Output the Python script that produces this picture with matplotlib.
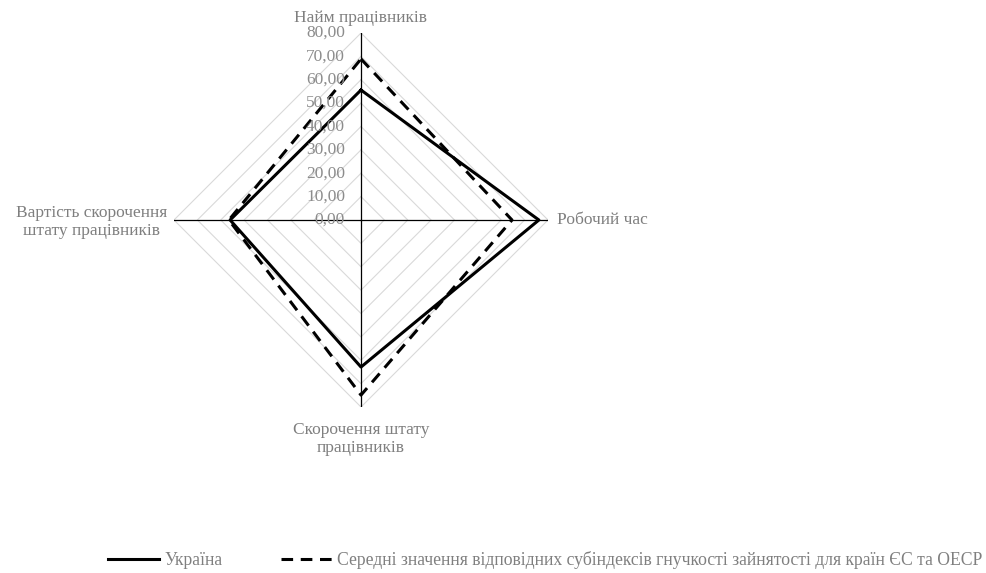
import numpy as np
import matplotlib.pyplot as plt

plt.rcParams['font.family'] = ['Liberation Serif', 'DejaVu Serif']

# categories clockwise from the top
categories = ["Найм працівників", "Робочий час",
              "Скорочення штату\nпрацівників", "Вартість скорочення\nштату працівників"]
ukraine = [55.6, 76.1, 62.9, 56.0]
eu_oecd = [68.9, 64.6, 74.9, 56.5]
levels = [0, 10, 20, 30, 40, 50, 60, 70, 80]
level_labels = ["0,00", "10,00", "20,00", "30,00", "40,00", "50,00", "60,00", "70,00", "80,00"]

fig = plt.figure(figsize=(9.86, 5.73), dpi=100)
ax = fig.add_axes([174 / 986, 166 / 573, 374 / 986, 374 / 573], projection='polar')
ax.set_theta_offset(np.pi / 2)
ax.set_theta_direction(-1)
ax.set_ylim(0, 80)
ax.grid(False)
ax.spines['polar'].set_visible(False)
ax.set_xticks([])
ax.set_yticks([])
ax.patch.set_alpha(0)

n = len(categories)
angles = np.linspace(0, 2 * np.pi, n, endpoint=False)
closed = np.append(angles, angles[0])

# diamond grid
for lv in levels[1:]:
    ax.plot(closed, [lv] * (n + 1), color='#d9d9d9', lw=0.8, zorder=1)
# spokes
for a in angles:
    ax.plot([a, a], [0, 80], color='black', lw=0.9, zorder=2)

# value labels along the top spoke
for lv, lab in zip(levels, level_labels):
    ax.annotate(lab, (0, lv), xytext=(-11.5, 0), textcoords='offset points',
                ha='right', va='center', fontsize=12.5, color='#8c8c8c', zorder=5)

ax.plot(closed, ukraine + ukraine[:1], color='black', lw=2.2, zorder=4, label='Україна')
ax.plot(closed, eu_oecd + eu_oecd[:1], color='black', lw=2.2, dashes=(3.8, 2.5), zorder=3,
        label='Середні значення відповідних субіндексів гнучкості зайнятості для країн ЄС та ОЕСР')

# category labels
lab_kw = dict(textcoords='offset points', fontsize=12.5, color='#7f7f7f',
              multialignment='center', linespacing=1.22)
ax.annotate(categories[0], (angles[0], 80), xytext=(0, 5), ha='center', va='bottom', **lab_kw)
ax.annotate(categories[1], (angles[1], 80), xytext=(6.5, 0), ha='left', va='center', **lab_kw)
ax.annotate(categories[2], (angles[2], 80), xytext=(0, -10.5), ha='center', va='top', **lab_kw)
ax.annotate(categories[3], (angles[3], 80), xytext=(-5, -1.5), ha='right', va='center', **lab_kw)

leg = fig.legend(loc='center', bbox_to_anchor=(0.553, 0.022), ncol=2, frameon=False,
                 fontsize=12.7, handlelength=2.9, handletextpad=0.3, columnspacing=3.3)
for t in leg.get_texts():
    t.set_color('#7f7f7f')

fig.savefig('out.png', dpi=100)
